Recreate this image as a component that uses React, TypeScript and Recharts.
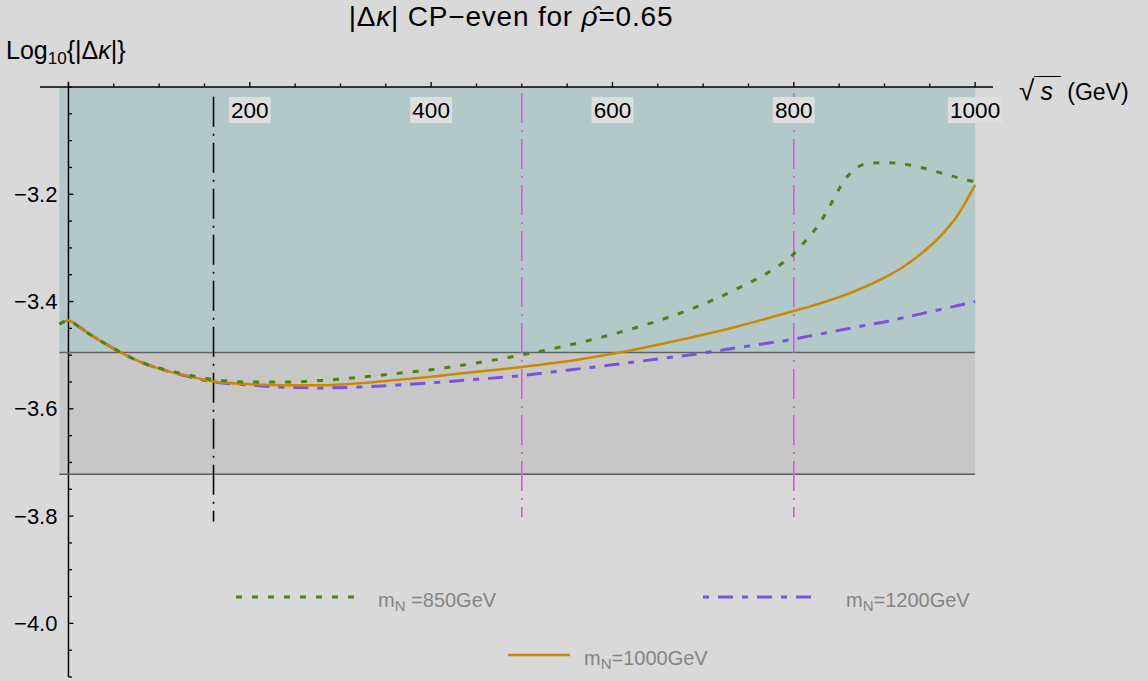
import React from "react";
import { ComposedChart, Line, XAxis, YAxis, ReferenceArea, ReferenceLine } from "recharts";

// ---- data ----
const xCommon = [-10, 0, 10, 20, 40, 60, 80, 100, 130, 160, 200, 240, 280, 320, 360, 400, 450, 500, 550, 600, 650, 700, 740, 780, 800, 820, 840, 860, 880, 900, 920, 940, 960, 980, 1000];
const y1000 = [-3.442, -3.4355, -3.445, -3.457, -3.478, -3.497, -3.513, -3.525, -3.538, -3.549, -3.554, -3.556, -3.556, -3.5525, -3.5465, -3.540, -3.531, -3.522, -3.5115, -3.4975, -3.4805, -3.462, -3.4455, -3.427, -3.4175, -3.408, -3.3975, -3.3855, -3.3715, -3.3555, -3.336, -3.3115, -3.281, -3.241, -3.1826];
const y1200 = [-3.442, -3.4355, -3.445, -3.457, -3.478, -3.497, -3.513, -3.525, -3.539, -3.550, -3.5555, -3.560, -3.561, -3.5595, -3.556, -3.5515, -3.545, -3.538, -3.528, -3.518, -3.507, -3.496, -3.4855, -3.4755, -3.470, -3.4635, -3.457, -3.4505, -3.444, -3.438, -3.4305, -3.423, -3.4155, -3.408, -3.400];
const x850 = [-10, 0, 10, 20, 40, 60, 80, 100, 130, 160, 200, 240, 280, 320, 360, 400, 450, 500, 550, 600, 650, 700, 740, 780, 800, 810, 820, 830, 840, 850, 860, 865, 870, 875, 880, 890, 900, 920, 940, 960, 980, 1000];
const y850 = [-3.442, -3.4355, -3.445, -3.457, -3.478, -3.497, -3.513, -3.524, -3.536, -3.5455, -3.550, -3.550, -3.547, -3.5415, -3.5345, -3.527, -3.5145, -3.4995, -3.482, -3.461, -3.436, -3.405, -3.374, -3.337, -3.311, -3.2925, -3.273, -3.250, -3.221, -3.190, -3.165, -3.156, -3.1495, -3.1455, -3.1435, -3.1415, -3.141, -3.1432, -3.150, -3.159, -3.1685, -3.177];

const bandUpper = [-3.495, -3.0]; // teal band (y1, y2)
const bandLower = [-3.722, -3.495]; // gray band
const bandX = [-10, 1000];
const vLineBlack = { x: 160, top: -3.018, bottom: -3.81 };
const vLinesMagenta = [500, 800];
const vMagentaRange = [-3.011, -3.802];

const xTicks = [0, 50, 100, 150, 200, 250, 300, 350, 400, 450, 500, 550, 600, 650, 700, 750, 800, 850, 900, 950, 1000];
const xMajor = [200, 400, 600, 800, 1000];
const yTicks = [-4.1, -4.05, -4.0, -3.95, -3.9, -3.85, -3.8, -3.75, -3.7, -3.65, -3.6, -3.55, -3.5, -3.45, -3.4, -3.35, -3.3, -3.25, -3.2, -3.15, -3.1, -3.05, -3.0];
const yMajor = [-4.0, -3.8, -3.6, -3.4, -3.2];

const toData = (xs: number[], ys: number[]) => xs.map((x, i) => ({ x, y: ys[i] }));
const d850 = toData(x850, y850);
const d1000 = toData(xCommon, y1000);
const d1200 = toData(xCommon, y1200);

// ---- layout ----
const W = 1148;
const H = 681;
const X_MIN = -31.4;
const X_MAX = 1019.7;
const Y_MIN = -4.1;
const Y_MAX = -3.0;
const MARGIN = { top: 57, right: 155, bottom: 4, left: 0 };
const XAXIS_H = 30;
const YAXIS_W = 40;
const PLOT_LEFT = MARGIN.left + YAXIS_W;
const PLOT_TOP = MARGIN.top + XAXIS_H;
const PLOT_W = W - MARGIN.right - PLOT_LEFT;
const AXIS_PX = PLOT_LEFT + ((0 - X_MIN) / (X_MAX - X_MIN)) * PLOT_W;

const FONT = "'Liberation Sans', Arial, sans-serif";
const C850 = "#4a8512";
const C1000 = "#cc8800";
const C1200 = "#7b52dc";
const CMAG = "#dd55e0";

const isMajor = (arr: number[], v: number) => arr.some((m) => Math.abs(m - v) < 1e-6);

const XTick = (props: any) => {
  const { x, payload } = props;
  const v = payload.value;
  const major = isMajor(xMajor, v);
  const label = String(v);
  const bw = label.length * 12.6 + 4;
  return (
    <g>
      <line x1={x} x2={x} y1={PLOT_TOP} y2={PLOT_TOP - (major ? 5 : 3.5)} stroke="#000" strokeWidth={1.3} />
      {major && (
        <g>
          <rect x={x - bw / 2} y={PLOT_TOP + 10} width={bw} height={26} fill="#dedede" />
          <text x={x} y={PLOT_TOP + 23} textAnchor="middle" dominantBaseline="central" fontFamily={FONT} fontSize={22.5} fill="#000">
            {label}
          </text>
        </g>
      )}
    </g>
  );
};

const YTick = (props: any) => {
  const { y, payload } = props;
  const v = payload.value;
  const major = isMajor(yMajor, v);
  return (
    <g>
      <line x1={AXIS_PX} x2={AXIS_PX + (major ? 5 : 3.5)} y1={y} y2={y} stroke="#000" strokeWidth={1.3} />
      {major && (
        <text x={AXIS_PX - 11} y={y} textAnchor="end" dominantBaseline="central" fontFamily={FONT} fontSize={22} fill="#000">
          {"\u2212" + Math.abs(v).toFixed(1)}
        </text>
      )}
    </g>
  );
};

const legendText: React.CSSProperties = {
  position: "absolute",
  fontFamily: FONT,
  fontSize: 20,
  color: "#858585",
  whiteSpace: "nowrap",
  lineHeight: "20px",
};
const subStyle: React.CSSProperties = { fontSize: 15, verticalAlign: "-4px", lineHeight: 0 };

export default function App() {
  return (
    <div style={{ position: "absolute", left: 0, top: 0, width: W, height: H, background: "#d9d9d9", overflow: "hidden" }}>
      <ComposedChart width={W} height={H} margin={MARGIN}>
        <XAxis
          xAxisId="x"
          type="number"
          dataKey="x"
          orientation="top"
          height={XAXIS_H}
          domain={[X_MIN, X_MAX]}
          allowDataOverflow
          ticks={xTicks}
          interval={0}
          tickLine={false}
          axisLine={{ stroke: "#000", strokeWidth: 1.5 }}
          tick={<XTick />}
        />
        <YAxis
          yAxisId="y"
          type="number"
          dataKey="y"
          width={YAXIS_W}
          domain={[Y_MIN, Y_MAX]}
          allowDataOverflow
          ticks={yTicks}
          interval={0}
          axisLine={false}
          tickLine={false}
          tick={<YTick />}
        />
        <ReferenceLine
          xAxisId="x"
          yAxisId="y"
          segment={[{ x: 0, y: -2.99 }, { x: 0, y: Y_MIN }]}
          stroke="#000"
          strokeWidth={1.5}
          ifOverflow="visible"
        />
        <ReferenceArea xAxisId="x" yAxisId="y" x1={bandX[0]} x2={bandX[1]} y1={bandUpper[0]} y2={bandUpper[1]} fill="#6cabab" fillOpacity={0.35} stroke="none" ifOverflow="visible" />
        <ReferenceArea xAxisId="x" yAxisId="y" x1={bandX[0]} x2={bandX[1]} y1={bandLower[0]} y2={bandLower[1]} fill="#a6a6a6" fillOpacity={0.35} stroke="none" ifOverflow="visible" />
        <ReferenceLine xAxisId="x" yAxisId="y" segment={[{ x: bandX[0], y: bandUpper[0] }, { x: bandX[1], y: bandUpper[0] }]} stroke="#5e6464" strokeWidth={1.5} />
        <ReferenceLine xAxisId="x" yAxisId="y" segment={[{ x: bandX[0], y: bandLower[0] }, { x: bandX[1], y: bandLower[0] }]} stroke="#5e5e5e" strokeWidth={1.5} />
        <ReferenceLine
          xAxisId="x"
          yAxisId="y"
          segment={[{ x: vLineBlack.x, y: vLineBlack.top }, { x: vLineBlack.x, y: vLineBlack.bottom }]}
          stroke="#000"
          strokeWidth={1.6}
          strokeDasharray="30 7 2 7"
        />
        {vLinesMagenta.map((vx) => (
          <ReferenceLine
            key={vx}
            xAxisId="x"
            yAxisId="y"
            segment={[{ x: vx, y: vMagentaRange[0] }, { x: vx, y: vMagentaRange[1] }]}
            stroke={CMAG}
            strokeWidth={1.6}
            strokeDasharray="30 7 2 7"
          />
        ))}
        <Line xAxisId="x" yAxisId="y" data={d1200} dataKey="y" type="monotone" stroke={C1200} strokeWidth={3} strokeDasharray="6 9 15 9" dot={false} isAnimationActive={false} />
        <Line xAxisId="x" yAxisId="y" data={d1000} dataKey="y" type="monotone" stroke={C1000} strokeWidth={2.5} dot={false} isAnimationActive={false} />
        <Line xAxisId="x" yAxisId="y" data={d850} dataKey="y" type="monotone" stroke={C850} strokeWidth={3} strokeDasharray="6 10" dot={false} isAnimationActive={false} />
      </ComposedChart>

      {/* title */}
      <div style={{ position: "absolute", left: 0, width: 1022, top: 2, textAlign: "center", fontFamily: FONT, fontSize: 28, letterSpacing: "0.8px", lineHeight: "30px", color: "#000", whiteSpace: "nowrap" }}>
        |Δ<i>κ</i>| CP−even for <i>ρ&#770;</i>=0.65
      </div>
      {/* y label */}
      <div style={{ position: "absolute", left: 6, top: 36, fontFamily: FONT, fontSize: 25, lineHeight: "28px", color: "#000", whiteSpace: "nowrap" }}>
        Log<sub style={{ fontSize: 17, verticalAlign: "-5px", lineHeight: 0 }}>10</sub>{"{|Δ"}<i>κ</i>{"|}"}
      </div>
      {/* x label */}
      <div style={{ position: "absolute", left: 1019, top: 76, fontFamily: FONT, fontSize: 23, lineHeight: "30px", color: "#000", whiteSpace: "nowrap" }}>
        <span style={{ fontSize: 28 }}>√</span>
        <span style={{ borderTop: "1.6px solid #000", fontStyle: "italic", fontSize: 25, padding: "0 8px 0 6px" }}>s</span> (GeV)
      </div>

      {/* legend */}
      <svg style={{ position: "absolute", left: 0, top: 0, pointerEvents: "none" }} width={W} height={H}>
        <line x1={236} x2={356} y1={597} y2={597} stroke={C850} strokeWidth={3} strokeDasharray="6 10" />
        <line x1={703} x2={818} y1={597} y2={597} stroke={C1200} strokeWidth={3} strokeDasharray="6 9 15 9" />
        <line x1={508} x2={570} y1={655} y2={655} stroke={C1000} strokeWidth={2.5} />
      </svg>
      <div style={{ ...legendText, left: 378, top: 590 }}>
        m<sub style={subStyle}>N</sub> =850GeV
      </div>
      <div style={{ ...legendText, left: 846, top: 590 }}>
        m<sub style={subStyle}>N</sub>=1200GeV
      </div>
      <div style={{ ...legendText, left: 584, top: 648 }}>
        m<sub style={subStyle}>N</sub>=1000GeV
      </div>
    </div>
  );
}
